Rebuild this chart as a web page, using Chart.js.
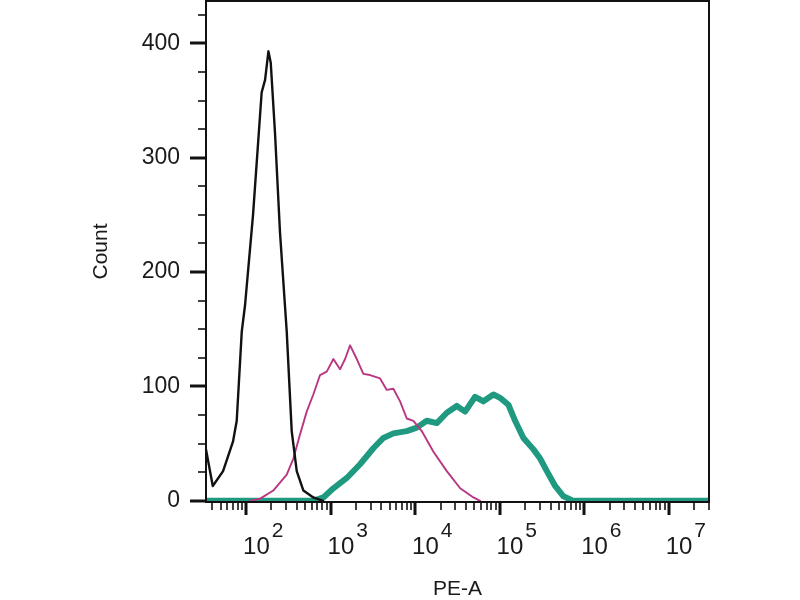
<!DOCTYPE html>
<html>
<head>
<meta charset="utf-8">
<script src="https://cdn.jsdelivr.net/npm/chart.js@4.4.1/dist/chart.umd.min.js"></script>
<style>
  html, body { margin: 0; padding: 0; background: #fff; }
  #wrap { width: 800px; height: 600px; }
</style>
</head>
<body>
<div id="wrap"><canvas id="histo" width="800" height="600"></canvas></div>
<script>
"use strict";

// PE-A values and counts
let black_x = [33.6, 40.4, 53.5, 70.2, 77.6, 89, 97.3, 121, 153, 168, 184, 196, 220, 252, 303, 347, 398, 477, 625, 815];
let black_y = [45, 13, 26, 52, 70, 148, 171, 250, 357, 368, 393, 383, 322, 235, 148, 61, 26, 9, 3, 0];

let pink_x = [111, 147, 210, 303, 363, 435, 522, 625, 751, 901, 1080, 1294, 1485, 1702, 2042, 2444, 2931, 3852, 4624, 5537, 6640, 7974, 9546, 11990, 16480, 23720, 34120, 48980, 58750];
let pink_y = [0, 2, 9, 23, 37, 58, 78, 93, 110, 113, 124, 115, 124, 136, 124, 111, 110, 107, 97, 98, 87, 72, 70, 61, 43, 26, 11, 3, 0];

let green_x = [33.6, 625, 822, 1080, 1556, 2234, 3207, 4214, 5537, 7974, 10470, 13740, 18060, 23720, 31120, 39070, 51310, 64340, 84530, 101400, 127100, 152500, 191300, 251300, 301300, 362100, 453900, 568900, 746500, 30000000];
let green_y = [0, 0, 3, 11, 20, 32, 46, 55, 59, 61, 64, 70, 68, 77, 83, 78, 91, 87, 93, 90, 84, 70, 55, 45, 37, 26, 13, 4, 0, 0];

// axes
let x_min = 33.6;
let x_max = 30000000;
let x_decades = [10, 100, 1000, 10000, 100000, 1000000, 10000000];
let x_minor_steps = [2, 3, 4, 5, 6, 7, 8, 9];
let x_label_values = [100, 1000, 10000, 100000, 1000000, 10000000];
let x_label_exps = ["2", "3", "4", "5", "6", "7"];

let y_min = -1;
let y_max = 437;
let y_ticks = [0, 25, 50, 75, 100, 125, 150, 175, 200, 225, 250, 275, 300, 325, 350, 375, 400, 425];
let y_labels = [0, 100, 200, 300, 400];

function to_points(xs, ys)
{
    let out = [];
    for (let i = 0; i < xs.length; i++)
    {
        out.push({ x: xs[i], y: ys[i] });
    }
    return out;
}

let x_tick_values = [];
for (let d of x_decades)
{
    x_tick_values.push({ value: d, major: true });
    for (let k of x_minor_steps)
    {
        x_tick_values.push({ value: d * k, major: false });
    }
}
x_tick_values = x_tick_values.filter(t => t.value >= x_min && t.value <= x_max);

const FONT = "'Liberation Sans', Arial, sans-serif";

// frame, tick marks and the 10^n labels
let frame_plugin = {
    id: "frame_plugin",
    afterDraw(chart)
    {
        let ctx = chart.ctx;
        let a = chart.chartArea;
        let xs = chart.scales.x;
        let ys = chart.scales.y;
        ctx.save();
        ctx.strokeStyle = "#111";
        ctx.lineCap = "butt";

        // y ticks
        for (let t of ys.ticks)
        {
            let py = Math.round(ys.getPixelForValue(t.value));
            let major = y_labels.includes(t.value);
            ctx.lineWidth = major ? 3 : 1.6;
            ctx.beginPath();
            ctx.moveTo(a.left - (major ? 16 : 8), py);
            ctx.lineTo(a.left, py);
            ctx.stroke();
        }

        // x ticks
        for (let t of xs.ticks)
        {
            let px = Math.round(xs.getPixelForValue(t.value));
            ctx.lineWidth = t.major ? 3 : 1.6;
            ctx.beginPath();
            ctx.moveTo(px, a.bottom);
            ctx.lineTo(px, a.bottom + (t.major ? 13 : 8));
            ctx.stroke();
        }

        // frame
        ctx.lineWidth = 2;
        ctx.strokeRect(a.left, a.top, a.right - a.left, a.bottom - a.top);

        // x labels 10^n
        ctx.fillStyle = "#1a1a1a";
        ctx.textAlign = "left";
        ctx.textBaseline = "alphabetic";
        for (let i = 0; i < x_label_values.length; i++)
        {
            let px = xs.getPixelForValue(x_label_values[i]) - 3;
            ctx.font = "24px " + FONT;
            ctx.fillText("10", px, 554);
            let w = ctx.measureText("10").width;
            ctx.font = "21px " + FONT;
            ctx.fillText(x_label_exps[i], px + w + 2, 537);
        }
        ctx.restore();
    }
};

let histo_canvas = document.getElementById("histo").getContext("2d");
let histo =
    new Chart(histo_canvas,
    {
        type: "line",
        data: {
            datasets: [
                {
                    label: "black",
                    data: to_points(black_x, black_y),
                    borderColor: "#111111",
                    borderWidth: 2.4
                },
                {
                    label: "pink",
                    data: to_points(pink_x, pink_y),
                    borderColor: "#b93682",
                    borderWidth: 1.9
                },
                {
                    label: "green",
                    data: to_points(green_x, green_y),
                    borderColor: "#1f9a80",
                    borderWidth: 6
                }
            ]
        },
        options: {
            responsive: false,
            animation: false,
            devicePixelRatio: 1,
            layout: { padding: { top: 1, right: 91, left: 0, bottom: 0 } },
            elements: {
                point: { radius: 0 },
                line: { tension: 0, fill: false, borderJoinStyle: "round", borderCapStyle: "round" }
            },
            plugins: {
                legend: { display: false },
                tooltip: { enabled: false }
            },
            scales: {
                x: {
                    type: "logarithmic",
                    min: x_min,
                    max: x_max,
                    afterBuildTicks: s => { s.ticks = x_tick_values.map(t => ({ value: t.value, major: t.major })); },
                    afterFit: s => { s.height = 98; s.paddingLeft = 0; s.paddingRight = 0; },
                    ticks: { display: false },
                    grid: { display: false },
                    border: { display: false },
                    title: {
                        display: true,
                        text: "PE-A",
                        color: "#1a1a1a",
                        font: { family: FONT, size: 21 },
                        padding: { top: 0, bottom: -2 }
                    }
                },
                y: {
                    type: "linear",
                    min: y_min,
                    max: y_max,
                    afterBuildTicks: s => { s.ticks = y_ticks.map(v => ({ value: v })); },
                    afterFit: s => { s.width = 206; s.paddingTop = 0; s.paddingBottom = 0; },
                    ticks: {
                        autoSkip: false,
                        padding: 10,
                        color: "#1a1a1a",
                        font: { family: FONT, size: 23 },
                        callback: v => (y_labels.includes(v) ? String(v) : "")
                    },
                    grid: {
                        display: true,
                        drawOnChartArea: false,
                        drawTicks: true,
                        tickLength: 16,
                        tickColor: "rgba(0,0,0,0)"
                    },
                    border: { display: false },
                    title: {
                        display: true,
                        text: "Count",
                        color: "#1a1a1a",
                        font: { family: FONT, size: 21 },
                        padding: { top: 89, bottom: 0 }
                    }
                }
            }
        },
        plugins: [frame_plugin]
    });
</script>
</body>
</html>
